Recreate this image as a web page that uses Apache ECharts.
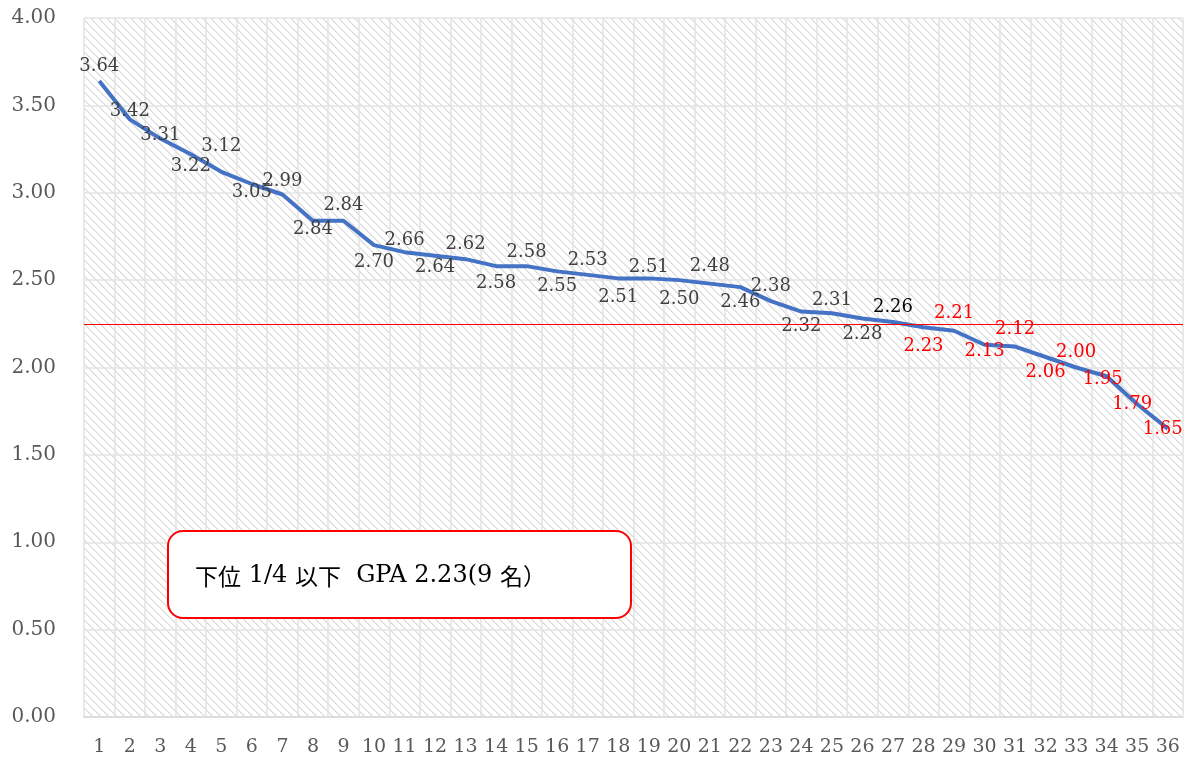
<!DOCTYPE html>
<html>
<head>
<meta charset="utf-8">
<script src="https://cdn.jsdelivr.net/npm/echarts@6/dist/echarts.min.js"></script>
<style>html,body{margin:0;padding:0;background:#fff;}#c{width:1192px;height:765px;}</style>
</head>
<body>
<div id="c"></div>
<script>
// ---- data ----
const categories = ['1','2','3','4','5','6','7','8','9','10','11','12','13','14','15','16','17','18','19','20','21','22','23','24','25','26','27','28','29','30','31','32','33','34','35','36'];
const gpa = [3.64,3.42,3.31,3.22,3.12,3.05,2.99,2.84,2.84,2.70,2.66,2.64,2.62,2.58,2.58,2.55,2.53,2.51,2.51,2.50,2.48,2.46,2.38,2.32,2.31,2.28,2.26,2.23,2.21,2.13,2.12,2.06,2.00,1.95,1.79,1.65];
const thresholdLine = 2.255;
const bottomCount = 9;
const yTicks = [0, 0.5, 1, 1.5, 2, 2.5, 3, 3.5, 4];
const noteParts = [['c','下位'],['l',' 1/4 '],['c','以下'],['l','  GPA 2.23(9 '],['c','名）']];

// ---- label placement (style, not data) ----
const labelOffsets = [
  [0,-15],[0,-8],[0,-3],[0,12],[0,-25],[0,8],[0,-13],[0,9],[0,-15],[0,17],
  [0,-12],[0,12],[0,-15],[0,17],[0,-14],[0,15],[0,-15],[0,19],[0,-11],[0,19],
  [0,-17],[0,15],[0,-15],[0,15],[0,-13],[0,16],[0,-15],[0,19],[0,-17],[0,7],
  [0,-17],[0,15],[0,-15],[-4,3],[-5,0],[-5,1]
];

// ---- hatch pattern ----
function makePattern() {
  const c = document.createElement('canvas');
  c.width = 8; c.height = 8;
  const ctx = c.getContext('2d');
  ctx.fillStyle = '#ffffff';
  ctx.fillRect(0, 0, 8, 8);
  for (let y = 0; y < 8; y++) {
    for (let x = 0; x < 8; x++) {
      const d = ((x - y) % 8 + 8) % 8;
      if (d === 0) { ctx.fillStyle = '#d9d9d9'; ctx.fillRect(x, y, 1, 1); }
      else if (d === 1) { ctx.fillStyle = '#e9e9e9'; ctx.fillRect(x, y, 1, 1); }
    }
  }
  return c;
}

const serif = '"DejaVu Serif", "Liberation Serif", serif';
const n = gpa.length;
const seriesData = gpa.map((v, i) => {
  let color = '#404040';
  if (i >= n - bottomCount) color = '#ff0000';
  else if (i === n - bottomCount - 1) color = '#000000';
  return {
    value: v,
    label: { offset: labelOffsets[i], color: color }
  };
});

const noteText = noteParts.map(p => '{' + p[0] + '|' + p[1] + '}').join('');

const chart = echarts.init(document.getElementById('c'), null, { renderer: 'canvas' });
chart.setOption({
  backgroundColor: '#ffffff',
  animation: false,
  grid: {
    left: 84, right: 9, top: 18, bottom: 48,
    show: true,
    borderWidth: 0,
    backgroundColor: { image: makePattern(), repeat: 'repeat' }
  },
  xAxis: {
    type: 'category',
    data: categories,
    boundaryGap: true,
    axisTick: { show: false },
    axisLine: { lineStyle: { color: '#d9d9d9', width: 1.5 } },
    axisLabel: { color: '#595959', fontFamily: serif, fontSize: 19, margin: 21, interval: 0 },
    splitLine: { show: true, interval: 0, lineStyle: { color: '#e3e3e3', width: 1.5 } }
  },
  yAxis: {
    type: 'value',
    min: yTicks[0], max: yTicks[yTicks.length - 1], interval: 0.5,
    axisLine: { show: false },
    axisTick: { show: false },
    axisLabel: { color: '#595959', fontFamily: serif, fontSize: 20, margin: 28, formatter: v => v.toFixed(2) },
    splitLine: { show: true, lineStyle: { color: '#e3e3e3', width: 1.5 } }
  },
  series: [{
    type: 'line',
    data: seriesData,
    symbol: 'circle',
    symbolSize: 1,
    showSymbol: true,
    itemStyle: { color: 'rgba(0,0,0,0)' },
    lineStyle: { color: '#4472c4', width: 4 },
    label: {
      show: true,
      position: 'inside',
      fontFamily: serif,
      fontSize: 18,
      formatter: p => p.value.toFixed(2)
    },
    markLine: {
      silent: true,
      symbol: 'none',
      label: { show: false },
      lineStyle: { color: '#ff0000', width: 1, type: 'solid' },
      data: [{ yAxis: thresholdLine }]
    },
    z: 3
  }],
  graphic: [{
    type: 'group',
    left: 167, top: 530,
    z: 100,
    children: [{
      type: 'rect',
      z: 100,
      shape: { x: 0, y: 0, width: 463, height: 87, r: 15 },
      style: { fill: '#ffffff', stroke: '#ff0000', lineWidth: 2 }
    }, {
      type: 'text',
      z: 101,
      x: 27, y: 45,
      style: {
        text: noteText,
        fill: '#000000',
        verticalAlign: 'middle',
        align: 'left',
        rich: {
          c: { fontSize: 23, fontFamily: '"Noto Sans CJK JP", sans-serif', fill: '#000000', verticalAlign: 'middle', lineHeight: 30 },
          l: { fontSize: 24, fontFamily: serif, fill: '#000000', verticalAlign: 'middle', lineHeight: 30 }
        }
      }
    }]
  }]
});
</script>
</body>
</html>
